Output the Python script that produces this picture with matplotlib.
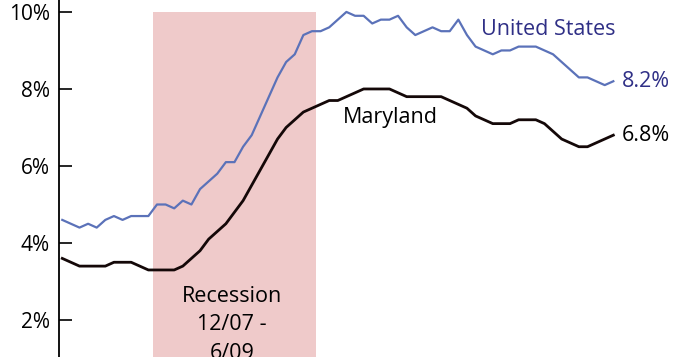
import matplotlib
matplotlib.use("Agg")
import matplotlib.pyplot as plt

# Monthly unemployment rate (%), Jan 2007 - May 2012
us_rate = [
    4.6, 4.5, 4.4, 4.5, 4.4, 4.6, 4.7, 4.6, 4.7, 4.7, 4.7, 5.0,
    5.0, 4.9, 5.1, 5.0, 5.4, 5.6, 5.8, 6.1, 6.1, 6.5, 6.8, 7.3,
    7.8, 8.3, 8.7, 8.9, 9.4, 9.5, 9.5, 9.6, 9.8, 10.0, 9.9, 9.9,
    9.7, 9.8, 9.8, 9.9, 9.6, 9.4, 9.5, 9.6, 9.5, 9.5, 9.8, 9.4,
    9.1, 9.0, 8.9, 9.0, 9.0, 9.1, 9.1, 9.1, 9.0, 8.9, 8.7, 8.5,
    8.3, 8.3, 8.2, 8.1, 8.2,
]
md_rate = [
    3.6, 3.5, 3.4, 3.4, 3.4, 3.4, 3.5, 3.5, 3.5, 3.4, 3.3, 3.3,
    3.3, 3.3, 3.4, 3.6, 3.8, 4.1, 4.3, 4.5, 4.8, 5.1, 5.5, 5.9,
    6.3, 6.7, 7.0, 7.2, 7.4, 7.5, 7.6, 7.7, 7.7, 7.8, 7.9, 8.0,
    8.0, 8.0, 8.0, 7.9, 7.8, 7.8, 7.8, 7.8, 7.8, 7.7, 7.6, 7.5,
    7.3, 7.2, 7.1, 7.1, 7.1, 7.2, 7.2, 7.2, 7.1, 6.9, 6.7, 6.6,
    6.5, 6.5, 6.6, 6.7, 6.8,
]
# recession months as index from Jan 2007: Dec 2007 .. Jun 2009
rec_first = 11
rec_last = 29
y_ticks = [2, 4, 6, 8, 10]
y_labels = ["2%", "4%", "6%", "8%", "10%"]

plt.rcParams["font.family"] = ["Open Sans", "DejaVu Sans"]

fig = plt.figure(figsize=(6.81, 3.57), dpi=100)
ax = fig.add_axes([59 / 681, 0, 622 / 681, 1])

months = list(range(len(us_rate)))

# recession band
ax.fill_between([rec_first - 0.5, rec_last + 0.5], 0, 10,
                color="#efcaca", lw=0, zorder=1)

ax.plot(months, us_rate, color="#5b72b9", lw=1.6, zorder=3)
ax.plot(months, md_rate, color="#140808", lw=2.0, zorder=3)

# labels
last = len(us_rate) - 1
ax.text(last + 1, us_rate[-1], f"{us_rate[-1]:.1f}%", color="#2f2f86",
        fontsize=15.5, va="center", ha="left")
ax.text(last + 1, md_rate[-1], f"{md_rate[-1]:.1f}%", color="black",
        fontsize=15.5, va="center", ha="left")
ax.text(48.6, 9.55, "United States", color="#2f2f86", fontsize=15.5,
        va="center", ha="left")
ax.text(32.6, 7.25, "Maryland", color="black", fontsize=15.5,
        va="center", ha="left")
ax.text((rec_first + rec_last) / 2 - 0.3, 2.88, "Recession\n12/07 -\n6/09",
        fontsize=15.5, ha="center", va="top", linespacing=1.45)

# axes styling
ax.set_xlim(-0.38, 71.86)
ax.set_ylim(1.04, 10.31)
for side in ["top", "right", "bottom"]:
    ax.spines[side].set_visible(False)
ax.spines["left"].set_linewidth(1.3)
ax.set_xticks([])
ax.set_yticks(y_ticks)
ax.set_yticklabels(y_labels)
ax.tick_params(axis="y", direction="in", length=9.5, width=1.2,
               pad=6.5, labelsize=15)

plt.savefig("out.png", dpi=100)
